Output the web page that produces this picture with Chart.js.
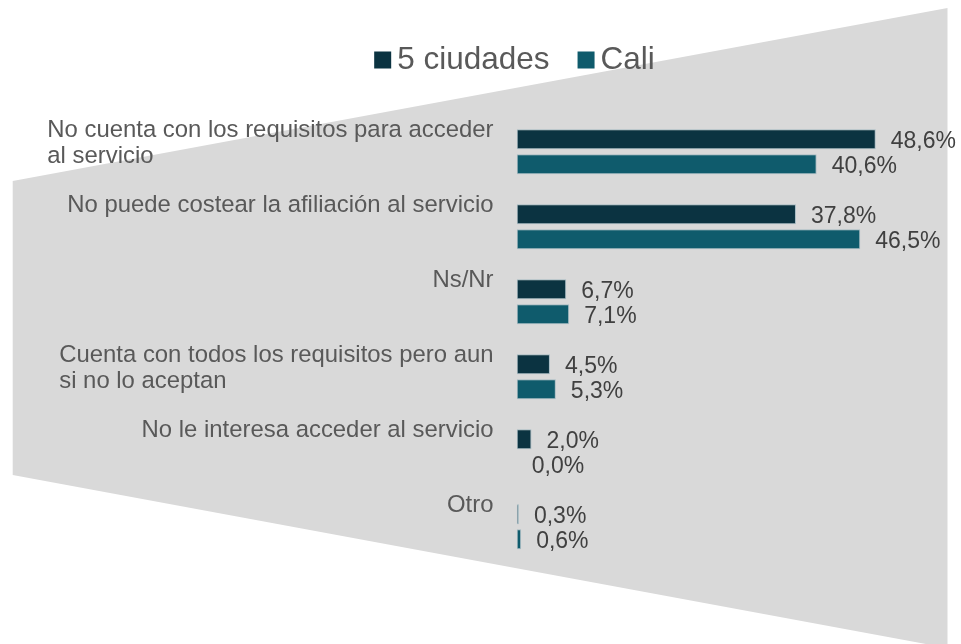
<!DOCTYPE html>
<html>
<head>
<meta charset="utf-8">
<script src="https://cdn.jsdelivr.net/npm/chart.js@4"></script>
<style>
  html, body { margin: 0; padding: 0; background: #ffffff; }
  #c { display: block; }
</style>
</head>
<body>
<canvas id="c" width="961" height="644"></canvas>
<script>
// ---- Data ----
const categories = [
  ["No cuenta con los requisitos para acceder", "al servicio"],
  "No puede costear la afiliación al servicio",
  "Ns/Nr",
  ["Cuenta con todos los requisitos pero aun", "si no lo aceptan"],
  "No le interesa acceder al servicio",
  "Otro"
];
const seriesNames = ["5 ciudades", "Cali"];
const cincoCiudades = [48.6, 37.8, 6.7, 4.5, 2.0, 0.3];
const cali = [40.6, 46.5, 7.1, 5.3, 0.0, 0.6];
const xMin = 0;
const xMax = 60;

// ---- Styles ----
const colors = ["#0B3341", "#0F5B6C"];
const FONT = "'Liberation Sans', Arial, sans-serif";
const fmt = v => v.toFixed(1).replace('.', ',') + '%';

const backgroundShape = {
  id: 'backgroundShape',
  beforeDraw(chart) {
    const ctx = chart.ctx;
    ctx.save();
    ctx.fillStyle = '#D9D9D9';
    ctx.beginPath();
    ctx.moveTo(12.7, 181);
    ctx.lineTo(947.5, 8);
    ctx.lineTo(947.5, 648);
    ctx.lineTo(12.7, 475);
    ctx.closePath();
    ctx.fill();
    ctx.restore();
  }
};

const customLegend = {
  id: 'customLegend',
  afterDraw(chart) {
    const ctx = chart.ctx;
    ctx.save();
    ctx.font = '31.5px ' + FONT;
    const sq = 17, gapText = 6, gapItem = 28;
    const items = chart.data.datasets.map(ds => ({ text: ds.label, color: ds.backgroundColor }));
    const widths = items.map(it => ctx.measureText(it.text).width);
    let total = 0;
    items.forEach((it, i) => { total += sq + gapText + widths[i] + (i < items.length - 1 ? gapItem : 0); });
    let x = 514.5 - total / 2;
    const baseline = 69.3;
    items.forEach((it, i) => {
      ctx.fillStyle = it.color;
      ctx.fillRect(x, 51.5, sq, sq);
      x += sq + gapText;
      ctx.fillStyle = '#595959';
      ctx.textBaseline = 'alphabetic';
      ctx.textAlign = 'left';
      ctx.fillText(it.text, x, baseline);
      x += widths[i] + gapItem;
    });
    ctx.restore();
  }
};

const categoryLabels = {
  id: 'categoryLabels',
  afterDraw(chart) {
    const ctx = chart.ctx;
    const yScale = chart.scales.y;
    ctx.save();
    ctx.font = '23.9px ' + FONT;
    ctx.fillStyle = '#595959';
    ctx.textAlign = 'left';
    ctx.textBaseline = 'alphabetic';
    const rightEdge = 493.5;
    const step = yScale.getPixelForValue(1) - yScale.getPixelForValue(0);
    chart.data.labels.forEach((lab, i) => {
      const lines = Array.isArray(lab) ? lab : [lab];
      const maxW = Math.max(...lines.map(l => ctx.measureText(l).width));
      const left = rightEdge - maxW;
      const top = yScale.getPixelForValue(i) - step / 2;
      lines.forEach((l, j) => {
        ctx.fillText(l, left, top + 23 + j * 26);
      });
    });
    ctx.restore();
  }
};

const valueLabels = {
  id: 'valueLabels',
  afterDatasetsDraw(chart) {
    const ctx = chart.ctx;
    ctx.save();
    ctx.font = '23px ' + FONT;
    ctx.fillStyle = '#404040';
    ctx.textAlign = 'left';
    ctx.textBaseline = 'middle';
    chart.data.datasets.forEach((ds, di) => {
      const meta = chart.getDatasetMeta(di);
      meta.data.forEach((bar, i) => {
        ctx.fillText(fmt(ds.data[i]), bar.x + 15, bar.y + 2);
      });
    });
    ctx.restore();
  }
};

new Chart(document.getElementById('c'), {
  type: 'bar',
  data: {
    labels: categories,
    datasets: [
      {
        label: seriesNames[0],
        data: cincoCiudades,
        backgroundColor: colors[0],
        borderColor: 'rgba(150,178,188,0.75)',
        borderWidth: ctx => (ctx.raw === 0 ? 0 : 1),
        borderSkipped: false,
        categoryPercentage: 2 / 3,
        barPercentage: 0.8
      },
      {
        label: seriesNames[1],
        data: cali,
        backgroundColor: colors[1],
        borderColor: 'rgba(150,178,188,0.75)',
        borderWidth: ctx => (ctx.raw === 0 ? 0 : 1),
        borderSkipped: false,
        categoryPercentage: 2 / 3,
        barPercentage: 0.8
      }
    ]
  },
  options: {
    indexAxis: 'y',
    responsive: false,
    animation: false,
    devicePixelRatio: 1,
    layout: { padding: { left: 516.7, right: 1, top: 114.3, bottom: 79.7 } },
    plugins: {
      legend: { display: false },
      tooltip: { enabled: false }
    },
    scales: {
      x: { display: false, min: xMin, max: xMax },
      y: { display: false }
    }
  },
  plugins: [backgroundShape, customLegend, categoryLabels, valueLabels]
});
</script>
</body>
</html>
